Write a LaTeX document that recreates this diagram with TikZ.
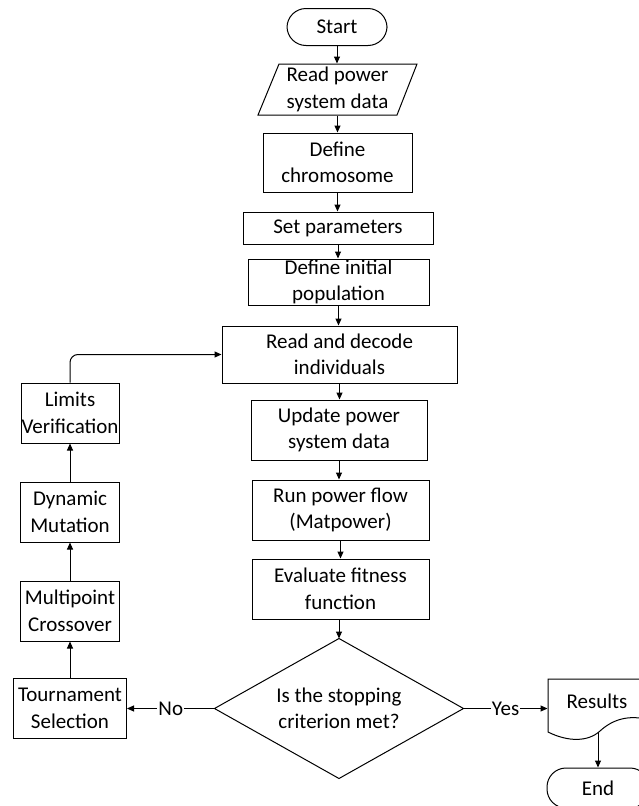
\documentclass[tikz,border=0pt]{standalone}
\usepackage{fontspec}
\setmainfont{Carlito}
\usetikzlibrary{arrows.meta,calc}
\newcommand{\myfont}{\fontsize{21}{26.5}\selectfont}
\begin{document}
\begin{tikzpicture}[x=1pt,y=-1pt,line width=1pt,
  box/.style={draw, rectangle, align=center, font=\myfont, inner sep=0pt},
  plain/.style={align=center, font=\myfont, inner sep=0pt},
  termbox/.style={box, rounded corners=19pt},
  arr/.style={-{Triangle[length=7pt,width=6pt]}},
  lbl/.style={fill=white, font=\myfont, inner sep=1pt}]
\useasboundingbox (0,0) rectangle (638,806);

% main column
\node[termbox, minimum width=100pt, minimum height=37pt] (start) at (337,27) {Start};
\node[plain, minimum width=118pt, minimum height=51pt] (read) at (337.5,89.5) {Read power\\system data};
\draw (279,64) -- (417,64) -- (397,115) -- (258,115) -- cycle;
\node[box, minimum width=149pt, minimum height=59pt] (chrom) at (337.5,162.5) {Define\\chromosome};
\node[box, minimum width=190pt, minimum height=32pt] (setp) at (338,228) {Set parameters};
\node[box, minimum width=181pt, minimum height=46pt] (initp) at (338.5,282) {Define initial\\population};
\node[box, minimum width=235pt, minimum height=57pt] (decode) at (339.5,354.5) {Read and decode\\individuals};
\node[box, minimum width=176pt, minimum height=60pt] (update) at (339,430) {Update power\\system data};
\node[box, minimum width=177pt, minimum height=60pt] (runpf) at (340.5,510) {Run power flow\\(Matpower)};
\node[box, minimum width=177pt, minimum height=60pt] (evalf) at (340.5,589) {Evaluate fitness\\function};
\node[plain, minimum width=248pt, minimum height=139pt] (dec) at (339,708.5) {Is the stopping\\criterion met?};
\draw (dec.north) -- (dec.east) -- (dec.south) -- (dec.west) -- cycle;

% results and end
\node[plain, minimum width=98pt, minimum height=44pt] (res) at (597,701) {Results};
\draw (548,679) -- (650,679) -- (650,720)
  .. controls (628,714) and (612,720) .. (600,731)
  .. controls (588,742) and (568,742) .. (548,732) -- cycle;
\coordinate (resb) at (598,732);
\node[termbox, minimum width=102pt, minimum height=40pt] (end) at (598,788) {End};

% left column
\node[box, minimum width=98pt, minimum height=60pt] (limits) at (70,413) {Limits\\Verification};
\node[box, minimum width=99pt, minimum height=60pt] (dynm) at (70,512) {Dynamic\\Mutation};
\node[box, minimum width=99pt, minimum height=60pt] (multc) at (70,611) {Multipoint\\Crossover};
\node[box, minimum width=113pt, minimum height=60pt] (tourn) at (70,708.5) {Tournament\\Selection};

% connectors
\draw[arr] (start.south) -- (start.south |- read.north);
\draw[arr] (read.south) -- (read.south |- chrom.north);
\draw[arr] (chrom.south) -- (chrom.south |- setp.north);
\draw[arr] (setp.south) -- (setp.south |- initp.north);
\draw[arr] (initp.south) -- (initp.south |- decode.north);
\draw[arr] (decode.south) -- (decode.south |- update.north);
\draw[arr] (update.south) -- (update.south |- runpf.north);
\draw[arr] (runpf.south) -- (runpf.south |- evalf.north);
\draw[arr] (evalf.south -| dec.north) -- (dec.north);
\draw[arr] (dec.west) -- node[lbl]{No} (tourn.east);
\draw[arr] (dec.east) -- node[lbl]{Yes} (dec.east -| res.west);
\draw[arr] (resb) -- (end.north);
\draw[arr] (tourn.north) -- (multc.south);
\draw[arr] (multc.north) -- (dynm.south);
\draw[arr] (dynm.north) -- (limits.south);
\draw[arr, rounded corners=8pt] (limits.north) |- (decode.west);
\end{tikzpicture}
\end{document}
